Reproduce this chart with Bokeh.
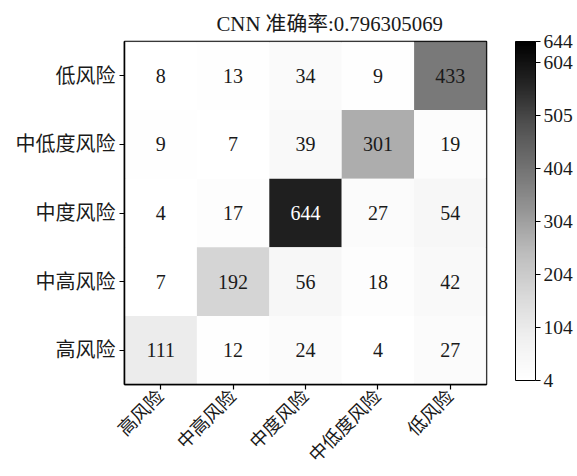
from bokeh.plotting import figure
from bokeh.models import ColumnDataSource, LinearColorMapper, ColorBar, FixedTicker
from bokeh.palettes import Greys9
from bokeh.core.properties import value
from bokeh.embed import file_html
from bokeh.resources import INLINE

# predicted classes (columns, left to right) and true classes (rows, bottom to top)
classes = ["高风险", "中高风险", "中度风险", "中低度风险", "低风险"]

# confusion-matrix counts, one list per true class, columns ordered as `classes`
counts_low = [8, 13, 34, 9, 433]
counts_midlow = [9, 7, 39, 301, 19]
counts_mid = [4, 17, 644, 27, 54]
counts_midhigh = [7, 192, 56, 18, 42]
counts_high = [111, 12, 24, 4, 27]

accuracy = "0.796305069"
cbar_ticks = [4, 104, 204, 304, 404, 505, 604, 644]

rows = {
    "低风险": counts_low,
    "中低度风险": counts_midlow,
    "中度风险": counts_mid,
    "中高风险": counts_midhigh,
    "高风险": counts_high,
}

FONT = "Liberation Serif, Noto Sans CJK SC"


def ramp(stops, n=256):
    """Smooth palette through the given hex stops (white -> black)."""
    rgb = [tuple(int(s[i:i + 2], 16) for i in (1, 3, 5)) for s in stops]
    out = []
    for k in range(n):
        t = k / (n - 1) * (len(rgb) - 1)
        i = min(int(t), len(rgb) - 2)
        f = t - i
        c = [round(a + (b - a) * f) for a, b in zip(rgb[i], rgb[i + 1])]
        out.append("#%02x%02x%02x" % tuple(c))
    return out


greys = ramp(list(reversed(Greys9)))

all_vals = [v for r in rows.values() for v in r]
vmin, vmax = min(all_vals), max(all_vals)

xs, ys, vals, labels, tcolors = [], [], [], [], []
for true_cls, row in rows.items():
    for pred_cls, v in zip(classes, row):
        xs.append(pred_cls)
        ys.append(true_cls)
        vals.append(v)
        labels.append(str(v))
        tcolors.append("white" if v > 0.8 * vmax else "#1a1a1a")

src = ColumnDataSource(dict(x=xs, y=ys, v=vals, label=labels, tc=tcolors))

mapper = LinearColorMapper(palette=greys, low=vmin, high=vmax)

p = figure(
    width=577, height=476,
    x_range=classes, y_range=classes,
    output_backend="svg", toolbar_location=None,
    min_border_left=124, min_border_right=91,
    min_border_top=41, min_border_bottom=91,
)
p.background_fill_color = "white"
p.border_fill_color = "white"
p.grid.visible = False
p.outline_line_color = "black"
p.outline_line_width = 1.5

p.title.text = "CNN 准确率:" + accuracy
p.title.text_font = FONT
p.title.text_font_size = "20.8px"
p.title.text_font_style = "normal"
p.title.text_color = "#1a1a1a"
p.title.align = "left"
p.title.offset = 92
p.title.standoff = 14

p.rect(x="x", y="y", width=1, height=1, source=src,
       fill_color={"field": "v", "transform": mapper}, fill_alpha=0.88,
       line_color=None)

p.text(x="x", y="y", text="label", source=src, text_color="tc",
       text_font=value(FONT), text_font_size="20px",
       text_align="center", text_baseline="middle")

for ax in (p.xaxis[0], p.yaxis[0]):
    ax.axis_line_color = "black"
    ax.axis_line_width = 1.5
    ax.major_tick_in = 0
    ax.major_tick_out = 5
    ax.major_tick_line_color = "black"
    ax.major_tick_line_width = 1.2
    ax.minor_tick_line_color = None
    ax.major_label_text_font = FONT
    ax.major_label_text_font_size = "20px"
    ax.major_label_text_color = "#1a1a1a"
    ax.major_label_standoff = 4

# slanted class names under the bottom axis
p.xaxis.major_label_orientation = 0.785398
p.xaxis.major_label_text_font_size = "18.5px"
p.xaxis.major_label_standoff = 4

color_bar = ColorBar(
    color_mapper=mapper,
    ticker=FixedTicker(ticks=cbar_ticks),
    width=20, height=339,
    location=(29, 4),
    padding=0,
    major_tick_in=0, major_tick_out=5,
    major_tick_line_color="black",
    minor_tick_line_color=None,
    bar_line_color="black", bar_line_width=1,
    border_line_color=None,
    background_fill_color=None,
    label_standoff=3,
    major_label_text_font=FONT,
    major_label_text_font_size="19.5px",
    major_label_text_color="#1a1a1a",
)
p.add_layout(color_bar, "right")

open("out.html", "w").write(file_html(p, INLINE))
